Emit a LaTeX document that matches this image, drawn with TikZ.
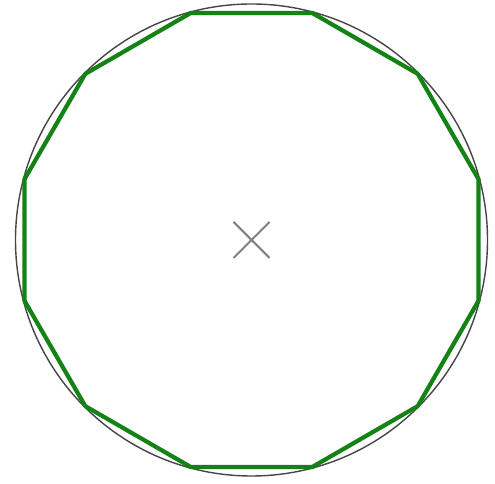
\documentclass[tikz,border=0pt]{standalone}
\usepackage{tikz}
\definecolor{ringgray}{RGB}{70, 70, 70}
\definecolor{polygreen}{RGB}{20, 130, 20}

\begin{document}
\begin{tikzpicture}
  \useasboundingbox (0,0) rectangle (9.9,9.68);
  \coordinate (centre) at (5.03,4.88);
  \draw[ringgray, line width=0.8pt] (centre) circle (4.72);
  \draw[polygreen, line width=2.4pt, line join=round] ([shift={(15:4.7)}]centre)
    \foreach \a in {45,75,...,345} { -- ([shift={(\a:4.7)}]centre) } -- cycle;
  \draw[gray, line width=1.2pt] ([shift={(-0.36,-0.36)}]centre) -- ([shift={(0.36,0.36)}]centre)
    ([shift={(-0.36,0.36)}]centre) -- ([shift={(0.36,-0.36)}]centre);
\end{tikzpicture}
\end{document}
